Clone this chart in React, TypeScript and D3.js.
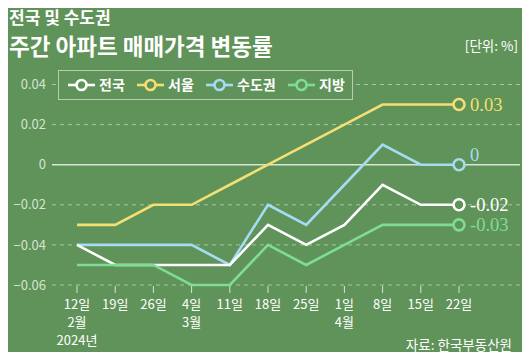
import { useEffect, useRef } from "react";
import * as d3 from "d3";

// ---- data ----
const days = ["12일", "19일", "26일", "4일", "11일", "18일", "25일", "1일", "8일", "15일", "22일"];
const months = ["2월", "", "", "3월", "", "", "", "4월", "", "", ""];
const years = ["2024년", "", "", "", "", "", "", "", "", "", ""];
const nationwide = [-0.04, -0.05, -0.05, -0.05, -0.05, -0.03, -0.04, -0.03, -0.01, -0.02, -0.02];
const seoul = [-0.03, -0.03, -0.02, -0.02, -0.01, 0, 0.01, 0.02, 0.03, 0.03, 0.03];
const capital = [-0.04, -0.04, -0.04, -0.04, -0.05, -0.02, -0.03, -0.01, 0.01, 0, 0];
const provinces = [-0.05, -0.05, -0.05, -0.06, -0.06, -0.04, -0.05, -0.04, -0.03, -0.03, -0.03];
const yTicks = [0.04, 0.02, 0, -0.02, -0.04, -0.06];
const endLabels = ["-0.02", "0.03", "0", "-0.03"];

const series = [
  { name: "전국", values: nationwide, color: "#ffffff", dy: 0 },
  { name: "서울", values: seoul, color: "#f3df73", dy: 0 },
  { name: "수도권", values: capital, color: "#a6dcf3", dy: -10 },
  { name: "지방", values: provinces, color: "#7fdc95", dy: 0 },
];

const BG = "#5f9359";
const W = 530;
const H = 360;

export default function App() {
  const ref = useRef<SVGSVGElement>(null);

  useEffect(() => {
    const svg = d3.select(ref.current);
    svg.selectAll("*").remove();
    const font = "'Noto Sans CJK KR', 'Noto Sans', sans-serif";

    svg.append("rect").attr("width", W).attr("height", H).attr("fill", BG);

    // titles
    svg.append("text").attr("x", 9).attr("y", 24).attr("fill", "#fff")
      .attr("font-family", font).attr("font-weight", 700).attr("font-size", 17)
      .text("전국 및 수도권");
    svg.append("text").attr("x", 9).attr("y", 55).attr("fill", "#fff")
      .attr("font-family", font).attr("font-weight", 700).attr("font-size", 22.5)
      .text("주간 아파트 매매가격 변동률");
    svg.append("text").attr("x", 518).attr("y", 51).attr("text-anchor", "end")
      .attr("fill", "#fff").attr("font-family", font).attr("font-size", 13.5)
      .text("[단위: %]");

    const x = d3.scalePoint<number>().domain(d3.range(days.length)).range([77, 459]);
    const y = d3.scaleLinear().domain([-0.06, 0.04]).range([285, 84.5]);

    // grid
    const grid = svg.append("g");
    yTicks.forEach(t => {
      grid.append("line")
        .attr("x1", 52).attr("x2", 520).attr("y1", y(t)).attr("y2", y(t))
        .attr("stroke", t === 0 ? "#d8e6d4" : "#a9c5a3")
        .attr("stroke-width", t === 0 ? 1.5 : 1)
        .attr("stroke-dasharray", t === 0 ? null : "4,4");
      grid.append("text")
        .attr("x", 46).attr("y", y(t)).attr("dy", "0.36em").attr("text-anchor", "end")
        .attr("fill", "#d5e3d1").attr("font-family", font).attr("font-size", 13)
        .text(t === 0 ? "0" : d3.format(".2f")(t).replace("-", "−"));
    });

    // x axis
    const xa = svg.append("g");
    days.forEach((d, i) => {
      xa.append("line").attr("x1", x(i)!).attr("x2", x(i)!).attr("y1", 286).attr("y2", 293)
        .attr("stroke", "#d8e6d4").attr("stroke-width", 1);
      [d, months[i], years[i]].forEach((s, k) => {
        if (!s) return;
        xa.append("text").attr("x", x(i)!).attr("y", 309 + k * 18).attr("text-anchor", "middle")
          .attr("fill", "#fff").attr("font-family", font).attr("font-size", 13).text(s);
      });
    });

    // lines
    const line = d3.line<number>().x((_, i) => x(i)!).y(v => y(v));
    const order = [1, 2, 0, 3];
    order.forEach(si => {
      const s = series[si];
      svg.append("path").datum(s.values).attr("d", line).attr("fill", "none")
        .attr("stroke", s.color).attr("stroke-width", 2.6).attr("stroke-linejoin", "miter");
    });
    order.forEach(si => {
      const s = series[si];
      const last = s.values.length - 1;
      svg.append("circle").attr("cx", x(last)!).attr("cy", y(s.values[last])).attr("r", 5.5)
        .attr("fill", BG).attr("stroke", s.color).attr("stroke-width", 2.6);
      svg.append("text").attr("x", x(last)! + 11).attr("y", y(s.values[last]) + s.dy)
        .attr("dy", "0.35em").attr("fill", s.color)
        .attr("font-family", "'Liberation Serif', 'DejaVu Serif', serif").attr("font-size", 18.5)
        .text(endLabels[si]);
    });

    // legend
    const lg = svg.append("g");
    lg.append("rect").attr("x", 58.5).attr("y", 70.5).attr("width", 294).attr("height", 29)
      .attr("fill", BG).attr("stroke", "#b8cfb3").attr("stroke-width", 1);
    const lx = [68, 137, 206, 288];
    series.forEach((s, i) => {
      const g = lg.append("g").attr("transform", `translate(${lx[i]},85)`);
      g.append("line").attr("x1", 0).attr("x2", 27).attr("stroke", s.color).attr("stroke-width", 2.6);
      g.append("circle").attr("cx", 13.5).attr("r", 5).attr("fill", BG)
        .attr("stroke", s.color).attr("stroke-width", 2.6);
      g.append("text").attr("x", 31).attr("dy", "0.36em").attr("fill", "#fff")
        .attr("font-family", font).attr("font-weight", 700).attr("font-size", 14).text(s.name);
    });

    svg.append("text").attr("x", 512).attr("y", 350).attr("text-anchor", "end")
      .attr("fill", "#fff").attr("font-family", font).attr("font-size", 13.5)
      .text("자료: 한국부동산원");

    svg.append("circle").attr("cx", 20).attr("cy", 372).attr("r", 17).attr("fill", "#1f2b1d");
  }, []);

  return <svg ref={ref} width={W} height={H} style={{ display: "block", margin: -8 }} />;
}
